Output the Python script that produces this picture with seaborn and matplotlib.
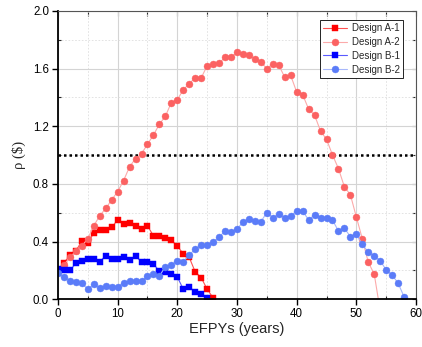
"""
EFPY に対する反応度の推移（Design A/B）
"""

import numpy as np
import matplotlib
matplotlib.use("Agg")
import matplotlib.pyplot as plt
import seaborn as sns
from matplotlib.ticker import MultipleLocator

# データ
efpy_a1 = list(range(0, 27))
rho_a1 = [0.20, 0.25, 0.31, 0.335, 0.405, 0.39, 0.46, 0.48, 0.48, 0.50,
          0.55, 0.52, 0.53, 0.505, 0.485, 0.51, 0.44, 0.44, 0.425, 0.41,
          0.37, 0.315, 0.29, 0.19, 0.15, 0.07, 0.01]

efpy_a2 = list(range(0, 55))
rho_a2 = [0.20, 0.24, 0.29, 0.335, 0.37, 0.42, 0.51, 0.58, 0.63, 0.69,
          0.747, 0.824, 0.92, 0.976, 1.01, 1.076, 1.14, 1.215, 1.27, 1.365,
          1.385, 1.454, 1.495, 1.538, 1.536, 1.62, 1.634, 1.636, 1.68, 1.678,
          1.715, 1.703, 1.692, 1.669, 1.646, 1.60, 1.634, 1.625, 1.54, 1.553,
          1.438, 1.42, 1.32, 1.278, 1.167, 1.11, 1.002, 0.907, 0.78, 0.726,
          0.571, 0.42, 0.257, 0.175, -0.08]

efpy_b1 = list(range(0, 26))
rho_b1 = [0.21, 0.20, 0.20, 0.25, 0.268, 0.28, 0.28, 0.261, 0.303, 0.278,
          0.278, 0.296, 0.273, 0.30, 0.259, 0.257, 0.243, 0.197, 0.19, 0.176,
          0.155, 0.07, 0.083, 0.053, 0.037, 0.011]

efpy_b2 = list(range(0, 59))
rho_b2 = [0.18, 0.157, 0.13, 0.122, 0.11, 0.071, 0.104, 0.076, 0.092, 0.083,
          0.088, 0.115, 0.127, 0.127, 0.127, 0.162, 0.173, 0.162, 0.226, 0.238,
          0.268, 0.261, 0.307, 0.349, 0.377, 0.377, 0.40, 0.429, 0.476, 0.465,
          0.488, 0.535, 0.558, 0.546, 0.539, 0.601, 0.567, 0.59, 0.567, 0.58,
          0.613, 0.613, 0.55, 0.587, 0.565, 0.562, 0.55, 0.474, 0.493, 0.435,
          0.451, 0.382, 0.326, 0.303, 0.268, 0.203, 0.169, 0.111, 0.018]

# スタイル設定
sns.set_style("ticks")
plt.rcParams['font.family'] = ['Liberation Sans', 'DejaVu Sans']

fig = plt.figure(figsize=(4.22, 3.47), dpi=100)
ax = fig.add_axes([0.1374, 0.1375, 0.8484, 0.8308])

series = [
    (efpy_a1, rho_a1, 'Design A-1', 's', '#ff0000', '#ff5050'),
    (efpy_a2, rho_a2, 'Design A-2', 'o', '#fb6262', '#fcaaaa'),
    (efpy_b1, rho_b1, 'Design B-1', 's', '#0000ff', '#5a5aff'),
    (efpy_b2, rho_b2, 'Design B-2', 'o', '#5b7cf8', '#a8b8fb'),
]
for x, y, label, mk, mc, lc in series:
    sns.lineplot(x=x, y=y, ax=ax, label=label, color=lc, linewidth=0.8,
                 marker=mk, markersize=5.0, markerfacecolor=mc,
                 markeredgecolor=mc, markeredgewidth=0.3)

# ρ = 1$ の基準線
ax.axhline(1.0, color='black', linestyle=(0, (1, 1.2)), linewidth=1.8, zorder=1)

ax.set_xlim(0, 60)
ax.set_ylim(0, 2.0)
ax.xaxis.set_major_locator(MultipleLocator(10))
ax.xaxis.set_minor_locator(MultipleLocator(5))
ax.yaxis.set_major_locator(MultipleLocator(0.4))
ax.yaxis.set_minor_locator(MultipleLocator(0.2))
ax.yaxis.set_major_formatter(matplotlib.ticker.FormatStrFormatter('%.1f'))

ax.grid(True, which='major', color='#d4d4d4', linewidth=0.8, linestyle='-', zorder=0)
ax.grid(True, which='minor', color='#dedede', linewidth=0.6, linestyle=(0, (2, 2)), zorder=0)
ax.set_axisbelow(True)

ax.tick_params(which='major', direction='out', length=4.5, width=1.0,
               labelsize=8.3, colors='black', pad=2)
ax.tick_params(which='minor', direction='in', length=2, width=0.8)
ax.tick_params(which='both', top=False, right=False)

# 上・右の目盛り（内向き）
ax_top = ax.secondary_xaxis('top')
ax_top.xaxis.set_major_locator(MultipleLocator(5))
ax_top.tick_params(direction='in', length=3.5, width=0.8, labeltop=False)
ax_top.spines['top'].set_visible(False)
ax_right = ax.secondary_yaxis('right')
ax_right.yaxis.set_major_locator(MultipleLocator(0.2))
ax_right.tick_params(direction='in', length=3, width=0.8, labelright=False)
ax_right.spines['right'].set_visible(False)

for side in ['left', 'bottom']:
    ax.spines[side].set_linewidth(1.3)
    ax.spines[side].set_color('black')
for side in ['top', 'right']:
    ax.spines[side].set_linewidth(0.8)
    ax.spines[side].set_color('#555555')

ax.set_xlabel('EFPYs (years)', fontsize=10.5, labelpad=1.5)
ax.set_ylabel(r'ρ (\$)', fontsize=10.5, family=['Liberation Serif', 'DejaVu Serif'],
              labelpad=5)

leg = ax.legend(loc='upper right', bbox_to_anchor=(0.977, 0.985), fontsize=7.0,
                frameon=True, fancybox=False, edgecolor='black', framealpha=1,
                handlelength=2.5, borderpad=0.3, labelspacing=0.4,
                handletextpad=0.5)
leg.get_frame().set_linewidth(0.6)

fig.savefig('out.png', dpi=100)
plt.close(fig)
